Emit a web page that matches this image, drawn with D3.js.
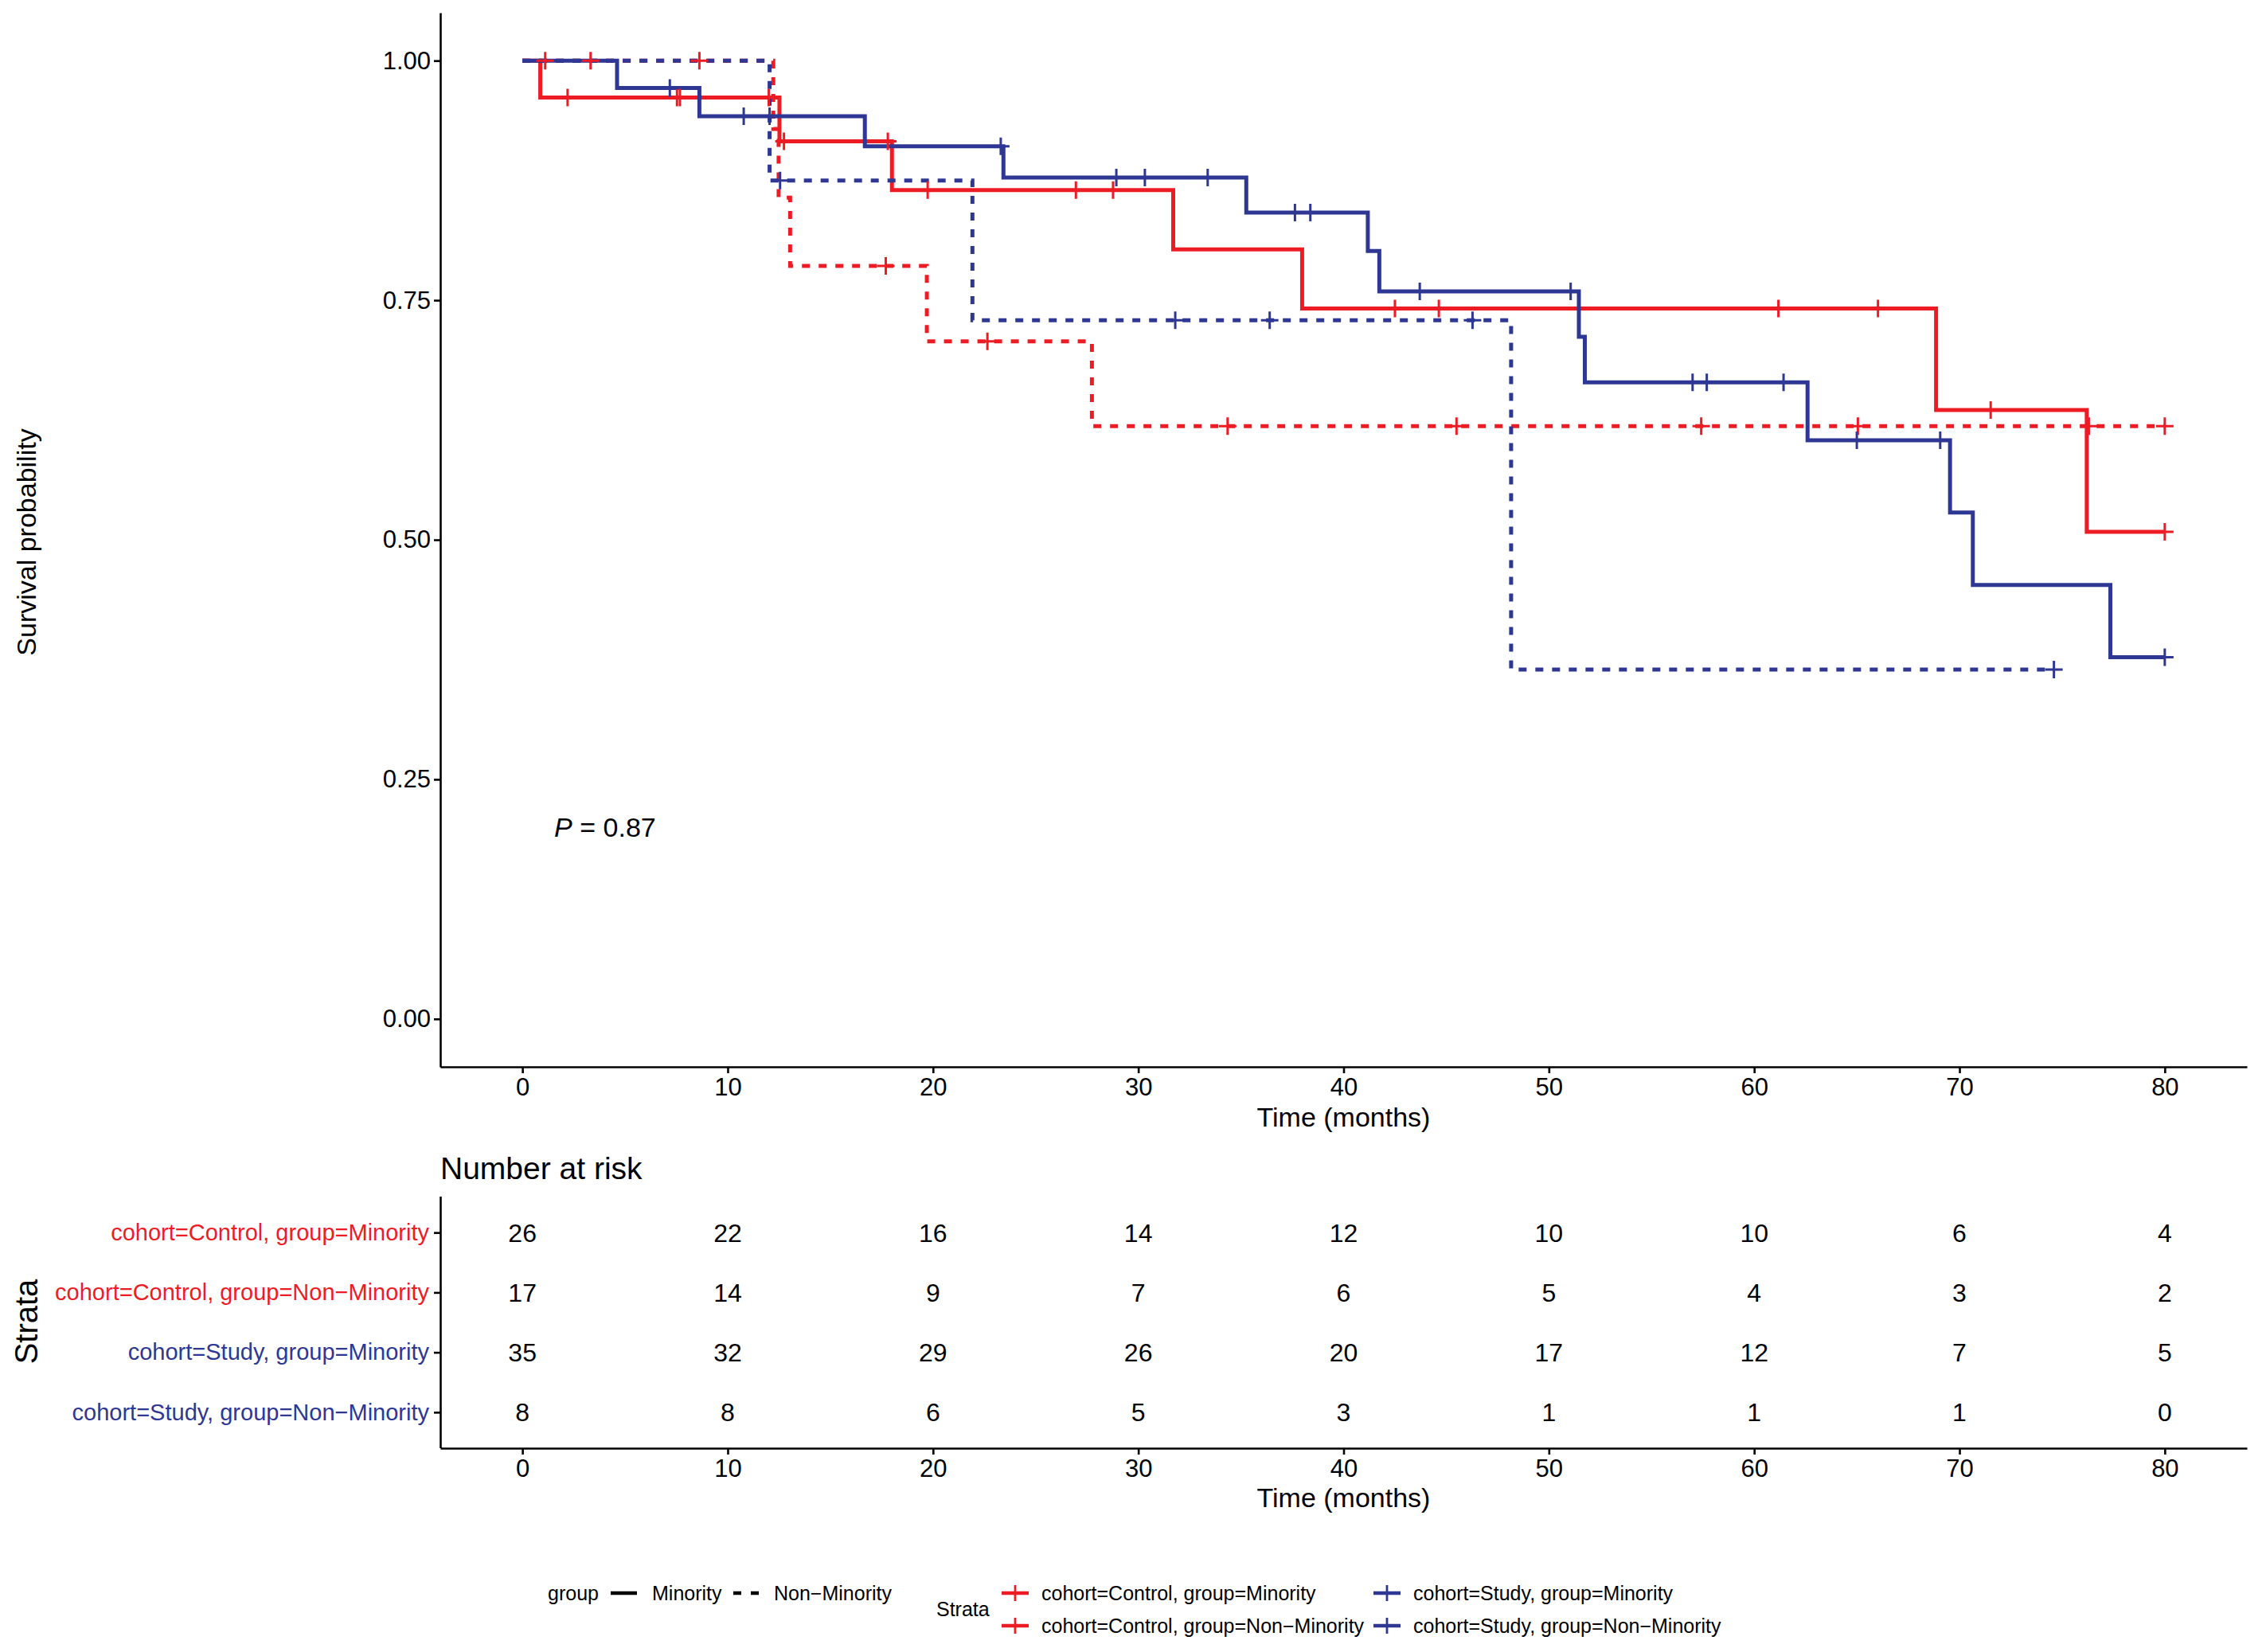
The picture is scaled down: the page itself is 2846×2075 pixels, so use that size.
<!DOCTYPE html>
<html>
<head>
<meta charset="utf-8">
<script src="https://cdn.jsdelivr.net/npm/d3@7"></script>
<style>
  body { margin: 0; background: #fff; }
  text { font-family: "Liberation Sans", Arial, Helvetica, sans-serif; fill: #000; }
</style>
</head>
<body>
<div id="chart"></div>
<script>
// ---- data ----
var strata = [
  "cohort=Control, group=Minority",
  "cohort=Control, group=Non\u2212Minority",
  "cohort=Study, group=Minority",
  "cohort=Study, group=Non\u2212Minority"
];
var groupLevels = ["Minority", "Non\u2212Minority"];

// Control, Minority
var ctrlMinTime = [0, 0.87, 12.52, 18.0, 31.7, 37.98, 68.86, 76.2];
var ctrlMinSurv = [1, 0.9615, 0.9158, 0.8649, 0.8031, 0.7413, 0.6354, 0.5083];
var ctrlMinEnd = 80;
var ctrlMinCens = [2.2, 7.53, 7.67, 12.0, 12.74, 17.8, 19.74, 26.96, 28.77, 42.5, 44.64, 61.18, 66.03, 71.52, 80];

// Control, Non-Minority
var ctrlNonTime = [0, 12.22, 12.48, 13.04, 19.7, 27.74];
var ctrlNonSurv = [1, 0.9286, 0.8571, 0.7857, 0.7071, 0.6187];
var ctrlNonEnd = 80;
var ctrlNonCens = [1.11, 3.32, 8.62, 17.7, 22.65, 34.35, 45.5, 57.42, 65.05, 76.3, 80];

// Study, Minority
var studyMinTime = [0, 4.61, 8.62, 16.68, 23.43, 35.26, 41.18, 41.74, 51.46, 51.75, 62.6, 69.54, 70.65, 77.35];
var studyMinSurv = [1, 0.9714, 0.9420, 0.9106, 0.8781, 0.8415, 0.8014, 0.7592, 0.7118, 0.6643, 0.6039, 0.5284, 0.4529, 0.3774];
var studyMinEnd = 80;
var studyMinCens = [7.18, 10.78, 12.04, 23.3, 28.93, 30.32, 33.38, 37.63, 38.38, 43.71, 51.06, 57.0, 57.69, 61.43, 65.0, 69.06, 80];

// Study, Non-Minority
var studyNonTime = [0, 12.04, 21.92, 48.16];
var studyNonSurv = [1, 0.875, 0.7292, 0.3646];
var studyNonEnd = 74.6;
var studyNonCens = [12.55, 31.8, 36.4, 46.28, 74.6];

// number at risk
var riskTimes = [0, 10, 20, 30, 40, 50, 60, 70, 80];
var riskCtrlMin = [26, 22, 16, 14, 12, 10, 10, 6, 4];
var riskCtrlNon = [17, 14, 9, 7, 6, 5, 4, 3, 2];
var riskStudyMin = [35, 32, 29, 26, 20, 17, 12, 7, 5];
var riskStudyNon = [8, 8, 6, 5, 3, 1, 1, 1, 0];

var xTicks = [0, 10, 20, 30, 40, 50, 60, 70, 80];
var yTicks = [0, 0.25, 0.5, 0.75, 1];
var pLabel = "0.87";

// ---- styles ----
var red = "#ED1C24";
var blue = "#2E3794";
var strataColor = [red, red, blue, blue];
var strataDash = [null, "10,11", null, "10,11"];

var curves = [
  {time: ctrlMinTime, surv: ctrlMinSurv, end: ctrlMinEnd, cens: ctrlMinCens},
  {time: ctrlNonTime, surv: ctrlNonSurv, end: ctrlNonEnd, cens: ctrlNonCens},
  {time: studyMinTime, surv: studyMinSurv, end: studyMinEnd, cens: studyMinCens},
  {time: studyNonTime, surv: studyNonSurv, end: studyNonEnd, cens: studyNonCens}
];
var riskRows = [riskCtrlMin, riskCtrlNon, riskStudyMin, riskStudyNon];

var svgWidth = 2846;
var svgHeight = 2075;

var svg = d3.select("#chart")
  .append("svg")
  .attr("width", svgWidth)
  .attr("height", svgHeight);

svg.append("rect").attr("width", svgWidth).attr("height", svgHeight).attr("fill", "#fff");

var xScale = d3.scaleLinear().domain([-4, 84]).range([553, 2822]);
var yScale = d3.scaleLinear().domain([-0.05, 1.05]).range([1340, 16]);

function styleAxis(g, fontSize) {
  g.select(".domain").attr("stroke", "#000").attr("stroke-width", 2.6);
  g.selectAll(".tick line").attr("stroke", "#000").attr("stroke-width", 2.6);
  g.selectAll(".tick text").style("font-size", fontSize + "px").style("fill", "#000");
}

// ---- survival panel ----
var xAxis = svg.append("g")
  .attr("transform", "translate(0,1340)")
  .call(d3.axisBottom(xScale).tickValues(xTicks).tickSize(8).tickSizeOuter(0).tickPadding(6));
styleAxis(xAxis, 31);

var yAxis = svg.append("g")
  .attr("transform", "translate(553,0)")
  .call(d3.axisLeft(yScale).tickValues(yTicks).tickFormat(d3.format(".2f")).tickSize(8).tickSizeOuter(0).tickPadding(4));
styleAxis(yAxis, 31);

svg.append("text")
  .attr("x", (553 + 2822) / 2)
  .attr("y", 1415)
  .attr("text-anchor", "middle")
  .style("font-size", "34px")
  .text("Time (months)");

svg.append("text")
  .attr("transform", "translate(45,681) rotate(-90)")
  .attr("text-anchor", "middle")
  .style("font-size", "34px")
  .text("Survival probability");

var line = d3.line()
  .x(function(d) { return xScale(d[0]); })
  .y(function(d) { return yScale(d[1]); })
  .curve(d3.curveStepAfter);

function survAt(c, t) {
  var s = c.surv[0];
  for (var i = 0; i < c.time.length; i++) {
    if (c.time[i] <= t) s = c.surv[i];
  }
  return s;
}

var curveGroup = svg.append("g");

curves.forEach(function(c, i) {
  var pts = c.time.map(function(t, j) { return [t, c.surv[j]]; });
  pts.push([c.end, c.surv[c.surv.length - 1]]);
  curveGroup.append("path")
    .datum(pts)
    .attr("d", line)
    .attr("fill", "none")
    .attr("stroke", strataColor[i])
    .attr("stroke-width", 5)
    .attr("stroke-dasharray", strataDash[i]);
});

// censor marks
curves.forEach(function(c, i) {
  curveGroup.selectAll("path.cens" + i)
    .data(c.cens)
    .enter()
    .append("path")
    .attr("class", "cens" + i)
    .attr("d", function(t) {
      var cx = xScale(t), cy = yScale(survAt(c, t));
      return "M" + (cx - 11) + "," + cy + "H" + (cx + 11) + "M" + cx + "," + (cy - 11) + "V" + (cy + 11);
    })
    .attr("stroke", strataColor[i])
    .attr("stroke-width", 3)
    .attr("fill", "none");
});

// p-value
var pText = svg.append("text")
  .attr("x", xScale(1.55))
  .attr("y", yScale(0.2))
  .attr("dy", "0.35em")
  .style("font-size", "34px");
pText.append("tspan").style("font-style", "italic").text("P");
pText.append("tspan").text(" = " + pLabel);

// ---- risk table ----
svg.append("text")
  .attr("x", 553)
  .attr("y", 1481)
  .style("font-size", "39px")
  .text("Number at risk");

var rowScale = d3.scalePoint().domain(strata).range([1503, 1819]).padding(0.6);

var riskX = svg.append("g")
  .attr("transform", "translate(0,1819)")
  .call(d3.axisBottom(xScale).tickValues(xTicks).tickSize(8).tickSizeOuter(0).tickPadding(6));
styleAxis(riskX, 31);

var riskY = svg.append("g")
  .attr("transform", "translate(553,0)")
  .call(d3.axisLeft(rowScale).tickSize(8).tickSizeOuter(0).tickPadding(6));
riskY.select(".domain").attr("stroke", "#000").attr("stroke-width", 2.6)
  .attr("d", "M0.5,1503V1819");
riskY.selectAll(".tick line").attr("stroke", "#000").attr("stroke-width", 2.6);
riskY.selectAll(".tick text")
  .style("font-size", "29px")
  .style("fill", function(d, i) { return strataColor[i]; });

riskRows.forEach(function(row, i) {
  svg.selectAll("text.risk" + i)
    .data(row)
    .enter()
    .append("text")
    .attr("class", "risk" + i)
    .attr("x", function(d, j) { return xScale(riskTimes[j]); })
    .attr("y", rowScale(strata[i]))
    .attr("dy", "0.36em")
    .attr("text-anchor", "middle")
    .style("font-size", "32px")
    .text(function(d) { return d; });
});

svg.append("text")
  .attr("x", (553 + 2822) / 2)
  .attr("y", 1893)
  .attr("text-anchor", "middle")
  .style("font-size", "34px")
  .text("Time (months)");

svg.append("text")
  .attr("transform", "translate(47,1660) rotate(-90)")
  .attr("text-anchor", "middle")
  .style("font-size", "40px")
  .text("Strata");

// ---- legend ----
var legend = svg.append("g");
var row1 = 2001, row2 = 2042;

legend.append("text").attr("x", 688).attr("y", row1).attr("dy", "0.35em")
  .style("font-size", "25px").text("group");
legend.append("line").attr("x1", 767).attr("x2", 800).attr("y1", row1).attr("y2", row1)
  .attr("stroke", "#000").attr("stroke-width", 4.6);
legend.append("text").attr("x", 819).attr("y", row1).attr("dy", "0.35em")
  .style("font-size", "25px").text(groupLevels[0]);
legend.append("line").attr("x1", 921).attr("x2", 953).attr("y1", row1).attr("y2", row1)
  .attr("stroke", "#000").attr("stroke-width", 4.6).attr("stroke-dasharray", "10,12");
legend.append("text").attr("x", 972).attr("y", row1).attr("dy", "0.35em")
  .style("font-size", "25px").text(groupLevels[1]);

legend.append("text").attr("x", 1176).attr("y", (row1 + row2) / 2).attr("dy", "0.35em")
  .style("font-size", "25px").text("Strata");

var keyPos = [
  {kx: 1275, tx: 1308, y: row1},
  {kx: 1275, tx: 1308, y: row2},
  {kx: 1742, tx: 1775, y: row1},
  {kx: 1742, tx: 1775, y: row2}
];
strata.forEach(function(s, i) {
  var k = keyPos[i];
  legend.append("line").attr("x1", k.kx - 17).attr("x2", k.kx + 17).attr("y1", k.y).attr("y2", k.y)
    .attr("stroke", strataColor[i]).attr("stroke-width", 4.6);
  legend.append("line").attr("x1", k.kx).attr("x2", k.kx).attr("y1", k.y - 10).attr("y2", k.y + 10)
    .attr("stroke", strataColor[i]).attr("stroke-width", 2.8);
  legend.append("text").attr("x", k.tx).attr("y", k.y).attr("dy", "0.35em")
    .style("font-size", "25px").text(s);
});
</script>
</body>
</html>
